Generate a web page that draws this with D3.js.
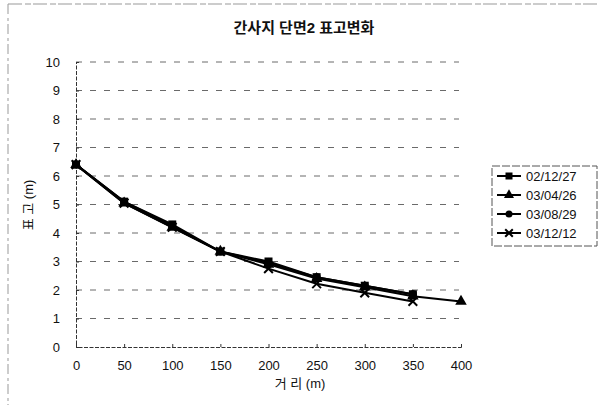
<!DOCTYPE html>
<html>
<head>
<meta charset="utf-8">
<script src="https://cdn.jsdelivr.net/npm/d3@7"></script>
<style>
  html, body { margin: 0; padding: 0; background: #fff; }
  svg { display: block; font-family: "Liberation Sans", Arial, "Noto Sans CJK KR", sans-serif; }
</style>
</head>
<body>
<svg id="chart" width="600" height="405"></svg>
<script>
// Distance from baseline point (m)
const distances = [0, 50, 100, 150, 200, 250, 300, 350, 400];
// Survey dates
const seriesNames = ["02/12/27", "03/04/26", "03/08/29", "03/12/12"];
// Elevation (m) per survey, one value per distance
const elev021227 = [6.4, 5.1, 4.3, 3.35, 3.0, 2.45, 2.15, 1.85];
const elev030426 = [6.4, 5.05, 4.2, 3.35, 2.9, 2.4, 2.1, 1.78, 1.6];
const elev030829 = [6.4, 5.1, 4.25, 3.35, 2.95, 2.45, 2.15, 1.85];
const elev031212 = [6.4, 5.05, 4.2, 3.35, 2.75, 2.22, 1.9, 1.6];
const markerKinds = ["square", "triangle", "circle", "cross"];
const xTicks = [0, 50, 100, 150, 200, 250, 300, 350, 400];
const yTicks = [0, 1, 2, 3, 4, 5, 6, 7, 8, 9, 10];

const series = seriesNames.map((name, i) => ({
  name,
  kind: markerKinds[i],
  values: [elev021227, elev030426, elev030829, elev031212][i]
    .map((v, j) => ({ x: distances[j], y: v }))
}));

const svg = d3.select("#chart");

// Outer chart frame (dashed, faint)
svg.append("line").attr("x1", 8).attr("x2", 600).attr("y1", 4).attr("y2", 4)
  .attr("stroke", "#999").attr("stroke-dasharray", "14,3,6,2");
svg.append("line").attr("x1", 8).attr("x2", 8).attr("y1", 4).attr("y2", 405)
  .attr("stroke", "#999").attr("stroke-dasharray", "10,4,3,3");

const x = d3.scaleLinear().domain([0, 400]).range([76, 461]);
const y = d3.scaleLinear().domain([0, 10]).range([347, 62]);

// Title
svg.append("text").attr("x", 304).attr("y", 33).attr("text-anchor", "middle")
  .attr("font-size", 15).attr("font-weight", "bold").attr("fill", "#111")
  .text("간사지 단면2 표고변화");

// Horizontal gridlines
svg.append("g").selectAll("line").data(yTicks.filter(d => d > 0)).join("line")
  .attr("x1", x(0)).attr("x2", x(400) - 2)
  .attr("y1", d => y(d)).attr("y2", d => y(d))
  .attr("stroke", "#444").attr("stroke-width", 0.8)
  .attr("stroke-dasharray", "6,8");

// Axes
const yAxis = svg.append("g").attr("transform", `translate(${x(0)},0)`)
  .call(d3.axisLeft(y).tickValues(yTicks).tickSize(-3).tickPadding(14).tickFormat(d3.format("d")));
const xAxis = svg.append("g").attr("transform", `translate(0,${y(0)})`)
  .call(d3.axisBottom(x).tickValues(xTicks).tickSize(-3).tickPadding(14).tickFormat(d3.format("d")));
[yAxis, xAxis].forEach(g => {
  g.select(".domain").attr("stroke", "#333").attr("stroke-dasharray", "4,1.5");
  g.selectAll(".tick line").attr("stroke", "#333");
  g.selectAll(".tick text").attr("font-size", 13).attr("fill", "#111")
    .attr("font-family", "'Liberation Sans', Arial, sans-serif");
});
yAxis.selectAll(".tick text").attr("x", -16);

// Axis titles
svg.append("text").attr("x", 300).attr("y", 388).attr("text-anchor", "middle")
  .attr("font-size", 13).attr("fill", "#111").text("거 리 (m)");
svg.append("text").attr("transform", "translate(33,205) rotate(-90)")
  .attr("text-anchor", "middle").attr("font-size", 13).attr("fill", "#111")
  .text("표 고 (m)");

// Marker shapes
function marker(g, kind, cx, cy, s) {
  if (kind === "square") {
    g.append("rect").attr("x", cx - s / 2).attr("y", cy - s / 2)
      .attr("width", s).attr("height", s).attr("fill", "#000");
  } else if (kind === "triangle") {
    g.append("path").attr("d", d3.symbol(d3.symbolTriangle, s * s * 0.9)())
      .attr("transform", `translate(${cx},${cy})`).attr("fill", "#000");
  } else if (kind === "circle") {
    g.append("circle").attr("cx", cx).attr("cy", cy).attr("r", s / 2).attr("fill", "#000");
  } else {
    g.append("path").attr("d", d3.symbol(d3.symbolX, s * s * 0.8)())
      .attr("transform", `translate(${cx},${cy})`)
      .attr("stroke", "#000").attr("stroke-width", 2).attr("fill", "none");
  }
}

const line = d3.line().x(d => x(d.x)).y(d => y(d.y));
const plot = svg.append("g");
series.forEach(s => {
  plot.append("path").datum(s.values).attr("d", line)
    .attr("fill", "none").attr("stroke", "#000").attr("stroke-width", 2);
});
series.forEach(s => {
  const g = plot.append("g");
  s.values.forEach(d => marker(g, s.kind, x(d.x), y(d.y), 8));
});

// Legend
const lg = svg.append("g");
lg.append("rect").attr("x", 492).attr("y", 166).attr("width", 105).attr("height", 80)
  .attr("fill", "#fff").attr("stroke", "#555").attr("stroke-dasharray", "8,2");
series.forEach((s, i) => {
  const ly = 176 + i * 19;
  lg.append("line").attr("x1", 497).attr("x2", 521).attr("y1", ly).attr("y2", ly)
    .attr("stroke", "#000").attr("stroke-width", 2);
  marker(lg, s.kind, 509, ly, 7);
  lg.append("text").attr("x", 526).attr("y", ly + 5).attr("font-size", 13)
    .attr("fill", "#111").text(s.name);
});
</script>
</body>
</html>
